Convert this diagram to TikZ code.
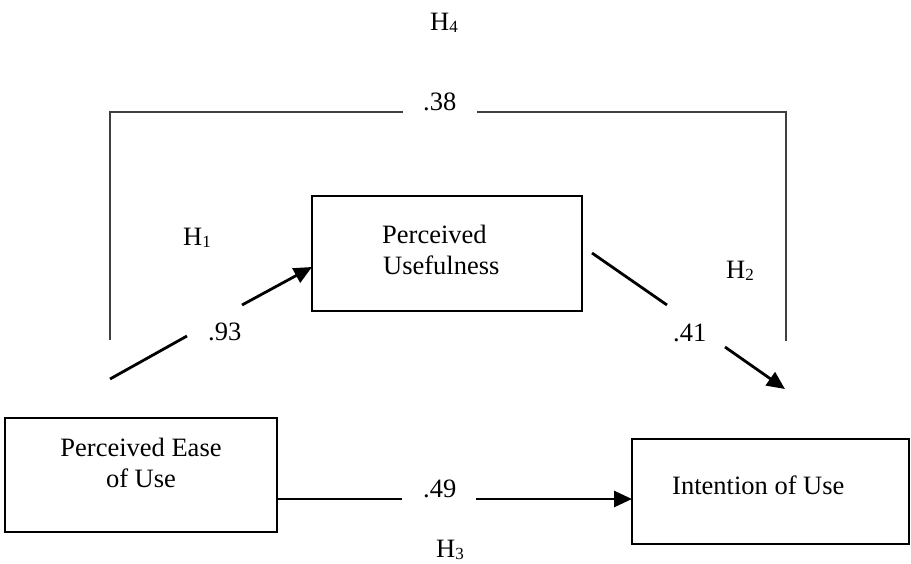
\documentclass[tikz,border=0pt]{standalone}
\usepackage{fontspec}
\setmainfont{Liberation Serif}
\usetikzlibrary{arrows.meta}
\newcommand{\hsub}[1]{H\raisebox{-2.5pt}{\fontsize{17}{17}\selectfont #1}}
\begin{document}
\begin{tikzpicture}[x=1pt,y=-1pt,
  txt/.style={inner sep=0pt,anchor=base west,font=\fontsize{26.5}{31}\selectfont},
  boxst/.style={draw,line width=2.8pt,inner sep=0pt},
  path/.style={line width=2.8pt},
  arr/.style={line width=2.8pt,-{Triangle[length=18pt,width=16pt]}},
  brk/.style={line width=1.3pt,draw=black!75}]
\useasboundingbox (0,0) rectangle (911,563);
% boxes
\node[boxst,minimum width=272pt,minimum height=114pt] (peou) at (141,475) {};
\node[boxst,minimum width=270pt,minimum height=115pt] (pu) at (447,253.5) {};
\node[boxst,minimum width=277pt,minimum height=105pt] (iou) at (770.5,491.5) {};
% box texts
\node[txt,anchor=base] (t1) at (141,456) {Perceived Ease};
\node[txt,anchor=base] (t2) at (141,487) {of Use};
\node[txt] (t3) at (382,243) {Perceived};
\node[txt] (t4) at (383,274) {Usefulness};
\node[txt] (t5) at (672,494) {Intention of Use};
% labels
\node[txt] (h4) at (430,30) {\hsub{4}};
\node[txt] (l38) at (423,110) {.38};
\node[txt] (h1) at (183,245) {\hsub{1}};
\node[txt] (h2) at (726,278) {\hsub{2}};
\node[txt] (l93) at (208,340) {.93};
\node[txt] (l41) at (673,341) {.41};
\node[txt] (l49) at (423,497) {.49};
\node[txt] (h3) at (436,557) {\hsub{3}};
% connector coordinates
\coordinate (a1) at (110,379);
\coordinate (a2) at (187,336);
\coordinate (a3) at (242,305);
\coordinate (a4) at (312,267);
\coordinate (b1) at (592,253);
\coordinate (b2) at (667,305);
\coordinate (b3) at (725,347);
\coordinate (b4) at (785,389);
\coordinate (c1) at (277,499);
\coordinate (c2) at (402,499);
\coordinate (c3) at (476,499);
\coordinate (c4) at (632,499);
\coordinate (d1) at (110,340);
\coordinate (d2) at (110,112);
\coordinate (d3) at (403,112);
\coordinate (d4) at (477,112);
\coordinate (d5) at (786,112);
\coordinate (d6) at (786,341);
% connectors
\draw[path] (a1) -- (a2);
\draw[arr] (a3) -- (a4);
\draw[path] (b1) -- (b2);
\draw[arr] (b3) -- (b4);
\draw[path] (c1) -- (c2);
\draw[arr] (c3) -- (c4);
\draw[brk] (d1) -- (d2) -- (d3);
\draw[brk] (d4) -- (d5) -- (d6);
\end{tikzpicture}
\end{document}
